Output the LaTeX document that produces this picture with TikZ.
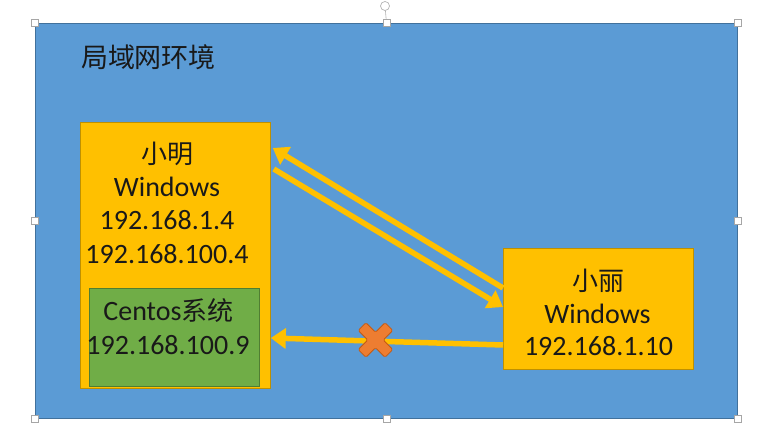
\documentclass[tikz,border=0pt]{standalone}
\usepackage{fontspec}
\setmainfont{Carlito}
\newfontfamily\cjk{Noto Sans CJK SC}
\usetikzlibrary{arrows.meta,calc}
\definecolor{bgblue}{HTML}{5B9BD5}
\definecolor{bgborder}{HTML}{41719C}
\definecolor{ygold}{HTML}{FFC000}
\definecolor{yborder}{HTML}{BF9000}
\definecolor{ggreen}{HTML}{70AD47}
\definecolor{gborder}{HTML}{507E32}
\definecolor{xorange}{HTML}{ED7D31}
\definecolor{xborder}{HTML}{C55A11}
\tikzset{
  panel/.style={draw=bgborder, fill=bgblue, line width=1pt, inner sep=0pt, anchor=north west},
  ybox/.style={draw=yborder, fill=ygold, line width=0.8pt, inner sep=0pt, anchor=north west},
  gbox/.style={draw=gborder, fill=ggreen, line width=0.8pt, inner sep=0pt, anchor=north west},
  txt/.style={anchor=base, inner sep=0pt, font=\fontsize{28}{32}\selectfont, text=black!90},
  flow/.style={draw=ygold, line width=5.5pt, -{Triangle[length=15pt, width=20pt]}},
  handle/.style={draw=gray!70, fill=white, line width=0.6pt, minimum size=7pt, inner sep=0pt}
}
\begin{document}
\begin{tikzpicture}[x=1pt, y=-1pt]
\useasboundingbox (0,0) rectangle (772,443);
% background panel
\node[panel, minimum width=702pt, minimum height=395pt] (lan) at (35,23) {};
\node[anchor=center, inner sep=0pt, font=\cjk\fontsize{27}{30}\selectfont, text=black!90] (title) at (148.5,57) {局域网环境};
% boxes
\node[ybox, minimum width=190pt, minimum height=266pt] (xm) at (80,122) {};
\node[gbox, minimum width=170pt, minimum height=98pt] (cent) at (89,288) {};
\node[ybox, minimum width=190pt, minimum height=121pt] (xl) at (503,248) {};
% texts left box
\node[txt, font=\cjk\fontsize{26}{30}\selectfont] (xmn) at (167,164) {小明};
\node[txt] (xmw) at (167,197) {Windows};
\node[txt] (xmip1) at (167,230) {192.168.1.4};
\node[txt] (xmip2) at (167,264) {192.168.100.4};
\node[txt] (cn) at (168.5,321) {Centos{\cjk\fontsize{26}{30}\selectfont 系统}};
\node[txt] (cip) at (168,355) {192.168.100.9};
% texts right box
\node[txt, font=\cjk\fontsize{26}{30}\selectfont] (xln) at (598,291) {小丽};
\node[txt] (xlw) at (597.5,324) {Windows};
\node[txt] (xlip) at (598.5,356) {192.168.1.10};
% connector end points
\coordinate (a1s) at ($(xl.north west)+(0,40)$);
\coordinate (a1e) at ($(xm.north east)+(2,26)$);
\coordinate (a2s) at ($(xm.north east)+(3,47)$);
\coordinate (a2e) at ($(xl.north west)+(0,59)$);
\coordinate (a3s) at ($(xl.north west)+(0,97)$);
\coordinate (a3e) at ($(xm.north east)+(0,216)$);
\draw[flow] (a1s) -- (a1e);
\draw[flow] (a2s) -- (a2e);
\draw[flow] (a3s) -- (a3e);
% orange cross
\begin{scope}[shift={(375.5,340)}, rotate=45]
\draw[draw=xborder, fill=xorange, line width=0.8pt, rounded corners=1.5pt]
  (-5.5,-19) -- (5.5,-19) -- (5.5,-5.5) -- (19,-5.5) -- (19,5.5) -- (5.5,5.5) -- (5.5,19)
  -- (-5.5,19) -- (-5.5,5.5) -- (-19,5.5) -- (-19,-5.5) -- (-5.5,-5.5) -- cycle;
\end{scope}
% selection handles
\node[handle] (h1) at (lan.north west) {};
\node[handle] (h2) at (lan.north) {};
\node[handle] (h3) at (lan.north east) {};
\node[handle] (h4) at (lan.west) {};
\node[handle] (h5) at (lan.east) {};
\node[handle] (h6) at (lan.south west) {};
\node[handle] (h7) at (lan.south) {};
\node[handle] (h8) at (lan.south east) {};
\node[circle, draw=gray!60, line width=0.7pt, minimum size=9pt, inner sep=0pt] (rot) at (385,6) {};
\draw[gray!60, line width=0.6pt] (rot) -- (h2);
\end{tikzpicture}
\end{document}
